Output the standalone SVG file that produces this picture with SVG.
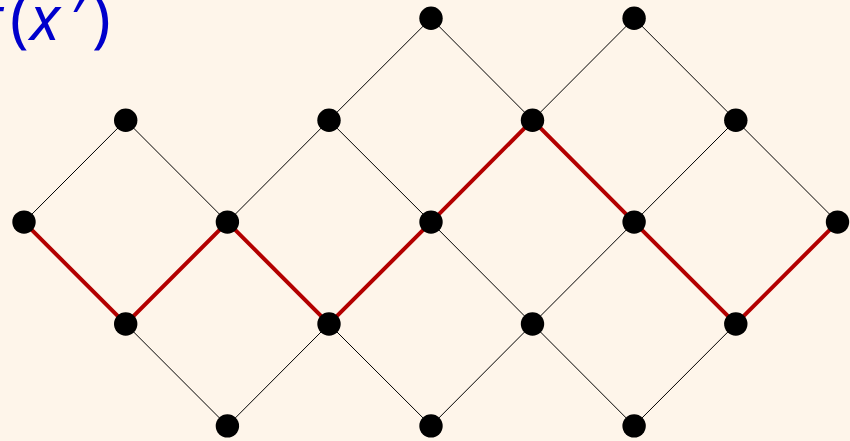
<svg xmlns="http://www.w3.org/2000/svg" width="850" height="441" viewBox="0 0 850 441">
<style>
.e{stroke:#000;stroke-width:1;fill:none}
.r{stroke:#b30000;stroke-width:4;fill:none;stroke-linecap:round}
.n{fill:#000}
.t{font-family:"Noto Sans",sans-serif;font-size:62px;fill:#0000cc}
</style>
<rect width="850" height="441" fill="#fef5ea"/>
<text class="t" y="40"><tspan x="-18" font-style="italic">f</tspan><tspan x="10">(</tspan><tspan x="30" font-style="italic">x</tspan><tspan x="71">′</tspan><tspan x="92">)</tspan></text>
<g id="connectors">
<path class="e" d="M431,18.3L329,120.2M431,18.3L532.5,120.2M634.1,18.3L532.5,120.2M634.1,18.3L735.8,120.2M125.7,120.2L24,222.1M125.7,120.2L227.4,222.1M329,120.2L227.4,222.1M329,120.2L431,222.1M735.8,120.2L634.1,222.1M735.8,120.2L837.5,222.1M431,222.1L532.5,324M634.1,222.1L532.5,324M125.7,324L227.4,425.9M329,324L227.4,425.9M329,324L431,425.9M532.5,324L431,425.9M532.5,324L634.1,425.9M735.8,324L634.1,425.9"/>
<path class="r" d="M24,222.1L125.7,324L227.4,222.1L329,324L431,222.1L532.5,120.2L634.1,222.1L735.8,324L837.5,222.1"/>
</g>
<g id="n1"><circle class="n" cx="431" cy="18.3" r="11.7"/></g>
<g id="n2"><circle class="n" cx="634.1" cy="18.3" r="11.7"/></g>
<g id="n3"><circle class="n" cx="125.7" cy="120.2" r="11.7"/></g>
<g id="n4"><circle class="n" cx="329" cy="120.2" r="11.7"/></g>
<g id="n5"><circle class="n" cx="532.5" cy="120.2" r="11.7"/></g>
<g id="n6"><circle class="n" cx="735.8" cy="120.2" r="11.7"/></g>
<g id="n7"><circle class="n" cx="24" cy="222.1" r="11.7"/></g>
<g id="n8"><circle class="n" cx="227.4" cy="222.1" r="11.7"/></g>
<g id="n9"><circle class="n" cx="431" cy="222.1" r="11.7"/></g>
<g id="n10"><circle class="n" cx="634.1" cy="222.1" r="11.7"/></g>
<g id="n11"><circle class="n" cx="837.5" cy="222.1" r="11.7"/></g>
<g id="n12"><circle class="n" cx="125.7" cy="324" r="11.7"/></g>
<g id="n13"><circle class="n" cx="329" cy="324" r="11.7"/></g>
<g id="n14"><circle class="n" cx="532.5" cy="324" r="11.7"/></g>
<g id="n15"><circle class="n" cx="735.8" cy="324" r="11.7"/></g>
<g id="n16"><circle class="n" cx="227.4" cy="425.9" r="11.7"/></g>
<g id="n17"><circle class="n" cx="431" cy="425.9" r="11.7"/></g>
<g id="n18"><circle class="n" cx="634.1" cy="425.9" r="11.7"/></g>
</svg>
